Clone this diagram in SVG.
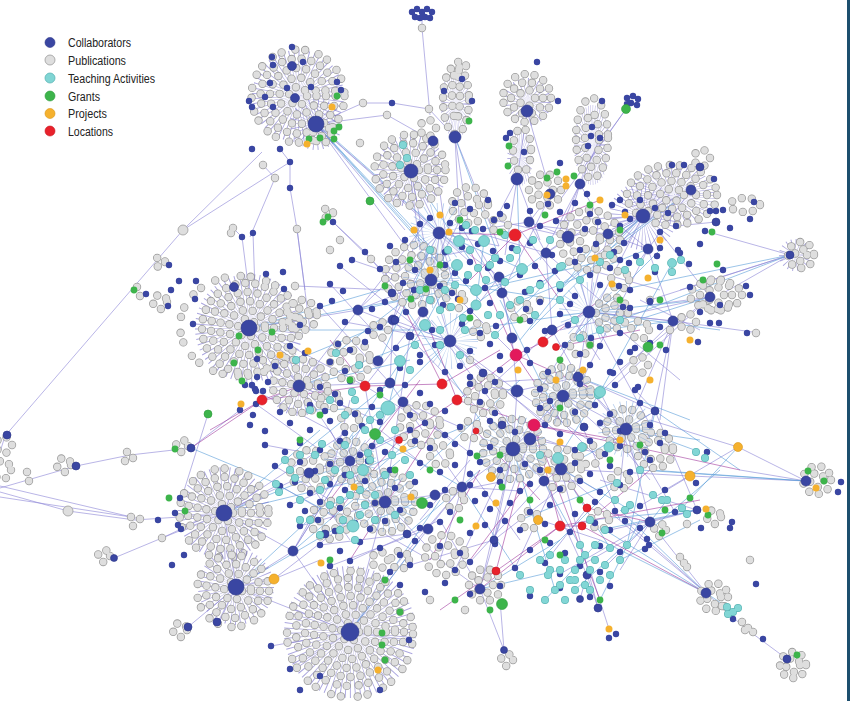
<svg xmlns="http://www.w3.org/2000/svg" xmlns:xlink="http://www.w3.org/1999/xlink" width="850" height="701" viewBox="0 0 850 701">
<style>
.e{fill:none;stroke:#8b84d6;stroke-width:.75;stroke-opacity:.8}
.eb{fill:none;stroke:#5a9cd8;stroke-width:.75;stroke-opacity:.8}
.em{fill:none;stroke:#9b2f98;stroke-width:.75;stroke-opacity:.75}
.sp{fill:none;stroke:#6f67c8;stroke-opacity:.6;stroke-dasharray:.5 2.2}
.spb{fill:none;stroke:#5a8fd6;stroke-opacity:.45;stroke-dasharray:.45 3}
.go{fill:none;stroke:#9c9c9c;stroke-width:8.4;stroke-linecap:round;stroke-dasharray:0 10}
.gf{fill:none;stroke:#dedede;stroke-width:6.8;stroke-linecap:round;stroke-dasharray:0 10}
.dg1{fill:none;stroke:#9c9c9c;stroke-width:8.4;stroke-linecap:round}
.dg2{fill:none;stroke:#dedede;stroke-width:6.8;stroke-linecap:round}
.db{fill:none;stroke:#3a46a2;stroke-width:6.4;stroke-linecap:round}
.dc1{fill:none;stroke:#5cb6b6;stroke-width:8;stroke-linecap:round}
.dc2{fill:none;stroke:#82d6d5;stroke-width:6.6;stroke-linecap:round}
.dn{fill:none;stroke:#3db44b;stroke-width:6.8;stroke-linecap:round}
.do{fill:none;stroke:#f5b12e;stroke-width:7;stroke-linecap:round}
.b{fill:#3a46a2;stroke:#2c3688;stroke-width:.6}
.g{fill:#dedede;stroke:#9c9c9c;stroke-width:.8}
.c{fill:#80d5d4;stroke:#5cb6b6;stroke-width:.8}
.n{fill:#3db44b;stroke:#2d9a3b;stroke-width:.6}
.o{fill:#f5b12e;stroke:#d99412;stroke-width:.6}
.r{fill:#e8212b;stroke:#c8161f;stroke-width:.6}
.rm{fill:#e3195c;stroke:#c4104a;stroke-width:.6}
.lt{font-family:"Liberation Sans Narrow","Liberation Sans",Arial,sans-serif;font-size:12px;fill:#222}
</style>
<rect width="850" height="701" fill="#fff"/>

<g id="connectors">
<path class="e" d="M0 452L5 436L183 230M183 230L262 152M183 230L290 162M0 488L76 466L130 455L191 448M0 492L68 511L135 520L224 514M0 486L140 519M0 497L131 517M114 558L162 538L224 513M162 538L200 520M191 448L240 410M182 497L208 414M224 513L240 470M224 513L280 484M224 513L236 587M236 587L350 632M236 587L274 579L320 560M274 579L350 520M350 632L290 669M350 632L271 646M350 632L409 640M218 622L236 587M188 627L236 587M422 14L422 28L430 115M316 124L363 103L392 103L429 109L455 137M316 124L387 115L433 141M316 124L440 233M316 124L470 262M316 124L430 280M316 124L405 230M290 188L290 162L280 149M290 188L297 229L305 290M297 229L310 330M275 178L263 165M275 178L250 237M242 237L250 300M253 233L255 290M233 228L242 237M333 222L365 252L371 259L405 300M333 222L392 280M358 310L440 233M358 310L431 280M358 310L410 330M296 286L390 290M455 137L460 235M455 137L470 235M433 141L445 230M410 171L440 233M410 171L420 250M527 111L517 179M517 179L505 255M517 179L540 240M517 179L490 230M580 184L540 260M580 184L565 235M600 138L560 230M626 109L590 160M626 109L560 200M643 216L590 260M643 216L570 237M643 216L600 300M691 190L640 260M790 255L680 290M790 255L650 300M790 255L720 295M710 297L650 305M710 297L560 330M710 297L620 370M673 321L590 312M673 321L626 429M673 321L660 420M760 333L673 321M806 481L690 476L580 470M806 481L738 447L650 420M806 481L740 470M706 593L650 522M706 593L560 470M706 593L745 628L787 659M697 510L650 522M697 510L600 480M650 522L620 570M480 589L500 520M480 589L440 520M504 650L500 600M504 650L480 589M609 629L590 570M440 233L500 277M440 233L431 280M440 233L499 246M439 233L393 320M529 222L546 253M529 222L568 237M551 194L502 293M568 237L589 312M608 234L589 312M608 234L648 249M431 280L423 312M431 280L450 341M499 277L512 338M499 277L450 341M546 253L552 330M502 293L512 338M589 312L578 377M589 312L552 330M393 320L390 383M423 312L410 336M450 341L483 373M552 330L578 377M512 338L517 391M390 383L403 402M517 391L513 449M563 395L530 439M563 395L626 429M513 449L462 487M513 449L544 481M530 439L561 469M561 469L544 481M462 487L435 495M435 495L385 502M385 502L350 461M350 461L403 402M428 529L462 487M407 534L385 502M494 540L513 449M626 429L655 411M578 377L626 429M563 395L513 449M439 233L458 300M546 253L600 300M648 249L673 321M589 312L673 321M300 386L350 461M300 386L358 310M300 386L390 383M249 328L358 310M249 328L300 386M224 513L293 551M293 551L350 461M293 551L350 632M350 632L385 502M350 632L428 529M236 587L293 551M309 473L350 461M309 473L224 513M385 502L440 560M440 560L480 589M513 449L480 589M561 469L598 608M598 608L587 575M580 599L587 575M544 481L587 575M462 487L440 560M365 386L385 502M403 402L462 487M450 341L517 391M393 320L450 341M551 194L529 222M580 184L608 234M643 216L608 234M527 111L551 194M455 137L499 246M411 171L431 280M568 237L546 253M517 391L578 377M483 373L462 487M410 336L385 502M423 312L365 386M350 461L293 551M530 439L494 540M626 429L650 522M655 411L697 510M578 377L655 411M600 392L640 470M460 220L420 300M480 250L520 320M560 300L600 360M380 430L430 470M330 430L380 520M300 470L350 540M470 470L520 540M540 400L600 460M600 420L650 480M620 330L680 380M520 230L560 280M460 300L520 360M400 400L450 440M360 520L430 560M540 520L600 540M580 420L620 520M350 400L330 480M420 520L470 460M640 300L700 330M590 270L660 290"/>
<path class="e" d="M340 266L420 330M352 260L440 290M380 269L470 250M330 284L400 360M320 306L390 383M345 322L450 341M290 346L365 386M275 366L350 410M245 385L330 430M256 404L320 450M265 445L350 461M275 466L330 500M280 486L350 526M290 505L370 470M300 526L385 502M320 545L407 534M330 566L428 529M350 561L440 520M390 572L462 487M410 565L494 540M455 570L513 449M470 562L544 481M515 568L561 469M545 563L587 508M560 574L650 522M580 566L626 540M600 572L650 522M610 530L697 510M625 521L706 593M640 506L690 476M665 490L738 447M675 512L626 429M650 460L578 377M660 443L589 312M645 452L673 321M620 446L563 395M605 454L530 439M590 441L517 391M575 450L502 425M560 434L483 373M545 425L450 341M515 432L423 312M490 421L393 320M460 427L403 402M445 435L365 386M425 423L350 461M410 430L309 473M380 422L300 386M362 426L293 551M345 433L224 513M470 453L403 402M500 482L435 495M520 491L462 487M560 489L494 540M580 481L544 481M600 492L561 469M620 485L626 429M470 384L517 391M485 391L552 330M495 382L578 377M540 389L589 312M580 384L648 249M600 393L673 321M615 385L710 297M635 390L655 411M420 224L393 320M430 218L358 310M450 223L423 312M462 228L502 293M472 231L546 253M483 229L529 222M494 220L568 237M540 226L608 234M556 221L643 216M585 229L546 253M598 222L589 312M620 226L648 249M630 219L691 190M660 232L710 297M676 226L716 222M705 231L790 255"/>
<path class="eb" d="M316 124L430 250M316 124L445 270M316 124L480 300M320 126L460 250M191 448L273 482M224 513L320 430M236 587L330 500M224 513L330 470M410 171L470 260M455 137L500 260M517 179L520 270M643 216L560 290M643 216L530 330M691 190L600 260M790 255L620 290M806 481L650 470M697 510L600 530M706 593L600 540M706 593L620 510M249 328L400 300M249 328L380 290M358 310L450 290M300 386L410 360M300 386L420 340M293 551L400 460M350 632L420 540M350 632L440 500M236 587L350 520M480 589L560 540M562 469L650 522M626 429L700 440M589 312L700 300M589 312L720 330M655 411L740 470M578 377L690 420M224 513L360 480M250 330L420 330M430 280L560 300M400 300L480 420M500 300L560 420M600 240L520 340M660 250L560 350M360 470L480 420M420 470L520 380M560 470L650 420M520 520L620 480M400 540L480 470M320 520L410 440M430 250L380 360M620 560L700 520M720 470L650 530M545 600L600 540M600 600L640 520M700 452L640 430M459 241L522 269M484 241L476 305M457 265L425 325M522 269L476 290M400 361L388 408M388 408L363 470M363 470L353 526M558 458L600 392M600 392L672 263M353 526L276 484M388 408L310 410M425 325L345 445M476 290L600 262M540 560L617 483M575 590L650 522M727 607L706 593M300 455L390 383M330 505L410 475M345 445L450 341M365 430L462 487M375 520L435 495M296 360L393 320M336 353L431 280M440 330L546 253M465 330L589 312M495 335L562 266M510 305L648 249M530 290L643 216M560 285L691 190M580 338L710 297M600 330L673 321M620 320L790 255M555 590L513 449M585 555L544 481M610 548L561 469M627 545L655 411M605 530L706 593M590 520L697 510M560 570L480 589M520 575L462 487M640 470L806 481M667 500L650 522M682 508L738 447"/>
<path class="em" d="M515 235L560 300M515 235L470 280M515 235L440 233M516 355L543 342M516 355L458 400M516 355L600 392M516 355L560 420M534 425L560 526M534 425L457 400M365 386L262 400M262 400L210 430M365 386L442 384M442 384L500 350M560 526L582 526M582 526L706 593M560 526L496 571M496 571L440 610M457 400L399 440M587 508L650 522M560 526L480 589M534 425L620 440M191 448L262 400M262 400L300 386M330 500L420 380M350 560L440 420M430 560L480 470M470 560L530 480M516 355L470 250M543 342L600 300M556 347L640 330M534 425L740 470M560 526L700 500M476 431L540 500M399 440L330 520M442 384L400 300M457 400L430 330M365 386L330 340M582 526L650 470M496 571L520 480M534 425L600 600M515 235L600 200M587 508L540 440"/>
</g>

<g id="cluster-a">
<circle class="sp" cx="298" cy="96" r="23" stroke-width="46"/>
<circle class="sp" cx="316" cy="124" r="13" stroke-width="26"/>
<g class="go"><g id="ra"><circle cx="298" cy="96" r="9"/><circle cx="298" cy="96" r="18.5"/><circle cx="298" cy="96" r="28"/><circle cx="298" cy="96" r="37.5"/><circle cx="298" cy="96" r="46.5" stroke-dasharray="0 10 0 14"/><circle cx="322" cy="134" r="9"/></g></g>
<use href="#ra" xlink:href="#ra" class="gf"/>
<circle class="b" cx="316" cy="124" r="8"/><circle class="b" cx="292" cy="66" r="4.5"/><circle class="b" cx="295" cy="98" r="4.5"/>
</g>
<g id="cluster-b">
<circle class="sp" cx="411" cy="171" r="18" stroke-width="36"/>
<g class="go"><g id="rb"><circle cx="410" cy="170" r="9"/><circle cx="410" cy="170" r="18"/><circle cx="410" cy="170" r="27"/><circle cx="410" cy="170" r="35.5" stroke-dasharray="0 10 0 13"/></g></g>
<use href="#rb" xlink:href="#rb" class="gf"/>
<circle class="b" cx="411" cy="171" r="7"/>
</g>
<g id="cluster-c">
<circle class="sp" cx="0" cy="0" r="17" stroke-width="34" transform="translate(456 104) scale(.45 1)"/>
<g class="go"><g id="rc"><ellipse cx="456" cy="100" rx="13" ry="34"/><ellipse cx="456" cy="96" rx="4" ry="24"/><circle cx="428" cy="128" r="8"/><circle cx="461" cy="66" r="5"/></g></g>
<use href="#rc" xlink:href="#rc" class="gf"/>
<circle class="b" cx="455" cy="137" r="6"/><circle class="b" cx="433" cy="141" r="5"/>
</g>
<g id="cluster-d">
<circle class="sp" cx="527" cy="102" r="12" stroke-width="24"/>
<circle class="sp" cx="0" cy="0" r="14" stroke-width="28" transform="translate(520 158) scale(.45 1)"/>
<g class="go"><g id="rd"><circle cx="527" cy="98" r="8"/><circle cx="527" cy="98" r="16"/><circle cx="527" cy="98" r="24"/><ellipse cx="522" cy="150" rx="9" ry="22"/><circle cx="545" cy="190" r="8"/><circle cx="545" cy="190" r="16"/></g></g>
<use href="#rd" xlink:href="#rd" class="gf"/>
<circle class="b" cx="527" cy="111" r="6"/><circle class="b" cx="517" cy="179" r="6"/><circle class="b" cx="550" cy="194" r="5"/>
</g>
<g id="cluster-e">
<circle class="sp" cx="0" cy="0" r="20" stroke-width="40" transform="translate(592 145) scale(.45 1)"/>
<g class="go"><g id="re"><ellipse cx="592" cy="138" rx="16" ry="40"/><ellipse cx="592" cy="140" rx="7" ry="27"/></g></g>
<use href="#re" xlink:href="#re" class="gf"/>
<circle class="b" cx="580" cy="184" r="5"/>
<path class="db" d="M627 98h0M633 96h0M638 99h0M631 103h0M637 105h0M627 104h0"/>
<circle class="n" cx="626" cy="109" r="4.5"/>
</g>
<g id="cluster-f">
<circle class="sp" cx="643" cy="216" r="17" stroke-width="34"/>
<circle class="sp" cx="0" cy="0" r="22" stroke-width="44" transform="translate(672 195) scale(1 .66)"/>
<g class="go"><g id="rf"><ellipse cx="672" cy="195" rx="45" ry="30" stroke-dasharray="0 10 0 12"/><ellipse cx="672" cy="195" rx="35" ry="22"/><ellipse cx="672" cy="195" rx="24" ry="14"/><ellipse cx="672" cy="195" rx="12" ry="6"/><ellipse cx="745" cy="205" rx="15" ry="7"/><circle cx="702" cy="158" r="8"/></g></g>
<use href="#rf" xlink:href="#rf" class="gf"/>
<circle class="b" cx="643" cy="216" r="7"/><circle class="b" cx="691" cy="190" r="5"/><circle class="b" cx="700" cy="167" r="4"/>
</g>
<g id="cluster-g">
<circle class="sp" cx="795" cy="255" r="8" stroke-width="16"/>
<g class="go"><g id="rg"><circle cx="801" cy="255" r="6"/><circle cx="801" cy="255" r="13"/></g></g>
<use href="#rg" xlink:href="#rg" class="gf"/>
<circle class="b" cx="790" cy="255" r="4"/>
</g>
<g id="cluster-h">
<circle class="sp" cx="249" cy="328" r="27" stroke-width="54"/>
<g class="go"><g id="rh"><circle cx="247" cy="328" r="9"/><circle cx="247" cy="328" r="18"/><circle cx="247" cy="328" r="27"/><circle cx="247" cy="328" r="36"/><circle cx="247" cy="328" r="45"/><ellipse cx="240" cy="326" rx="60" ry="50" stroke-dasharray="0 10 0 16"/><circle cx="302" cy="315" r="7"/><circle cx="302" cy="315" r="15"/></g></g>
<use href="#rh" xlink:href="#rh" class="gf"/>
<circle class="b" cx="249" cy="328" r="8"/><circle class="b" cx="234" cy="287" r="4.5"/>
</g>
<g id="cluster-i">
<circle class="sp" cx="299" cy="386" r="15" stroke-width="30"/>
<g class="go"><g id="ri"><circle cx="300" cy="386" r="9"/><circle cx="300" cy="386" r="18"/><circle cx="300" cy="386" r="27"/></g></g>
<use href="#ri" xlink:href="#ri" class="gf"/>
<circle class="b" cx="299" cy="386" r="6"/>
</g>
<g id="cluster-j">
<circle class="sp" cx="224" cy="513" r="23" stroke-width="46"/>
<g class="go"><g id="rj"><circle cx="224" cy="513" r="9"/><circle cx="224" cy="513" r="18"/><circle cx="224" cy="513" r="27"/><circle cx="224" cy="513" r="36"/><circle cx="224" cy="513" r="44.5" stroke-dasharray="0 10 0 15"/></g></g>
<use href="#rj" xlink:href="#rj" class="gf"/>
<circle class="b" cx="224" cy="513" r="8"/>
</g>
<g id="cluster-k">
<circle class="sp" cx="236" cy="587" r="19" stroke-width="38"/>
<g class="go"><g id="rk"><circle cx="233" cy="591" r="9"/><circle cx="233" cy="591" r="18"/><circle cx="233" cy="591" r="27"/><circle cx="233" cy="591" r="36" stroke-dasharray="0 10 0 14"/><circle cx="180" cy="630" r="7"/></g></g>
<use href="#rk" xlink:href="#rk" class="gf"/>
<circle class="b" cx="236" cy="587" r="8"/><circle class="b" cx="217" cy="622" r="4"/><circle class="b" cx="188" cy="627" r="4"/>
</g>
<g id="cluster-l">
<circle class="sp" cx="350" cy="632" r="33" stroke-width="66"/>
<g class="go"><g id="rl"><circle cx="350" cy="632" r="9"/><circle cx="350" cy="632" r="18"/><circle cx="350" cy="632" r="27"/><circle cx="350" cy="632" r="36"/><circle cx="350" cy="632" r="45"/><circle cx="350" cy="632" r="54" stroke-dasharray="0 10 0 12"/><circle cx="350" cy="634" r="63" stroke-dasharray="0 10 0 17"/></g></g>
<use href="#rl" xlink:href="#rl" class="gf"/>
<circle class="b" cx="350" cy="632" r="9"/>
</g>
<g id="small-clusters">
<g class="go"><g id="rs"><circle cx="64" cy="465" r="7"/><circle cx="182" cy="446" r="6"/><circle cx="104" cy="556" r="6"/><circle cx="817" cy="480" r="7"/><circle cx="817" cy="480" r="14"/><circle cx="714" cy="517" r="7"/><circle cx="714" cy="597" r="7"/><circle cx="714" cy="597" r="14"/><circle cx="793" cy="665" r="7"/><circle cx="793" cy="665" r="13"/><circle cx="485" cy="585" r="8"/><circle cx="485" cy="585" r="16"/><circle cx="507" cy="660" r="6"/><circle cx="716" cy="295" r="8"/><circle cx="716" cy="295" r="16"/><ellipse cx="716" cy="295" rx="26" ry="14"/><circle cx="688" cy="322" r="8"/><circle cx="612" cy="313" r="8"/><circle cx="612" cy="313" r="16"/><circle cx="160" cy="262" r="5"/><circle cx="160" cy="302" r="7"/><circle cx="4" cy="445" r="8"/><circle cx="2" cy="470" r="9"/><circle cx="328" cy="213" r="5"/><circle cx="660" cy="530" r="6"/></g></g>
<use href="#rs" xlink:href="#rs" class="gf"/>
</g>
<g id="core-publications">
<g class="go"><g id="rp"><circle cx="415" cy="275" r="10"/><circle cx="415" cy="275" r="20"/><circle cx="415" cy="275" r="30"/><circle cx="350" cy="360" r="10"/><circle cx="350" cy="360" r="20"/><circle cx="513" cy="449" r="10"/><circle cx="513" cy="449" r="20"/><circle cx="513" cy="449" r="30"/><circle cx="563" cy="395" r="10"/><circle cx="563" cy="395" r="20"/><circle cx="563" cy="395" r="28"/><circle cx="561" cy="469" r="10"/><circle cx="561" cy="469" r="20"/><circle cx="385" cy="502" r="10"/><circle cx="385" cy="502" r="20"/><circle cx="385" cy="502" r="30"/><circle cx="590" cy="240" r="10"/><circle cx="590" cy="240" r="20"/><circle cx="590" cy="240" r="30"/><circle cx="470" cy="205" r="9"/><circle cx="470" cy="205" r="18"/><circle cx="350" cy="461" r="10"/><circle cx="350" cy="461" r="20"/><circle cx="626" cy="429" r="10"/><circle cx="626" cy="429" r="20"/><circle cx="445" cy="555" r="10"/><circle cx="445" cy="555" r="20"/><circle cx="310" cy="470" r="10"/><circle cx="310" cy="470" r="20"/><circle cx="440" cy="455" r="10"/><circle cx="485" cy="395" r="10"/><circle cx="485" cy="395" r="18"/><circle cx="420" cy="425" r="10"/><circle cx="420" cy="425" r="20"/><circle cx="590" cy="455" r="10"/><circle cx="655" cy="450" r="10"/><circle cx="655" cy="450" r="18"/><circle cx="640" cy="365" r="8"/><circle cx="580" cy="345" r="10"/><circle cx="455" cy="300" r="9"/><circle cx="520" cy="310" r="9"/><circle cx="350" cy="420" r="9"/><circle cx="330" cy="520" r="10"/><circle cx="330" cy="520" r="19"/><circle cx="400" cy="560" r="9"/><circle cx="620" cy="280" r="9"/><circle cx="640" cy="330" r="9"/><circle cx="530" cy="520" r="9"/><circle cx="600" cy="520" r="9"/><circle cx="470" cy="430" r="9"/><circle cx="380" cy="560" r="8"/><circle cx="455" cy="500" r="9"/><circle cx="330" cy="400" r="9"/><circle cx="620" cy="480" r="9"/><circle cx="480" cy="330" r="7"/><circle cx="500" cy="225" r="8"/><circle cx="380" cy="330" r="8"/></g></g>
<use href="#rp" xlink:href="#rp" class="gf"/>
<g class="dg1"><path id="pg" d="M422 28h0M363 103h0M387 115h0M429 109h0M360 143h0M275 178h0M263 165h0M297 229h0M233 228h0M231 233h0M137 287h0M140 296h0M295 286h0M371 259h0M27 472h0M29 481h0M127 452h0M125 461h0M133 458h0M131 517h0M140 519h0M133 526h0M162 538h0M756 333h0M742 622h0M748 628h0M753 632h0M745 630h0M687 524h0M680 557h0M684 563h0M687 567h0M722 606h0M605 255h0M540 300h0M470 360h0M650 300h0M670 330h0M750 560h0M430 600h0M465 610h0M330 250h0M340 240h0"/></g>
<use href="#pg" xlink:href="#pg" class="dg2"/>
<circle class="g" cx="183" cy="230" r="5"/><circle class="g" cx="68" cy="511" r="5"/>
</g>

<g id="core-collaborators">
<circle class="spb" cx="439" cy="233" r="15" stroke-width="30"/>
<circle class="spb" cx="513" cy="449" r="17" stroke-width="34"/>
<circle class="spb" cx="563" cy="395" r="15" stroke-width="30"/>
<circle class="spb" cx="385" cy="502" r="15" stroke-width="30"/>
<circle class="spb" cx="450" cy="341" r="14" stroke-width="28"/>
<circle class="spb" cx="589" cy="312" r="15" stroke-width="30"/>
<circle class="spb" cx="431" cy="280" r="14" stroke-width="28"/>
<circle class="spb" cx="626" cy="429" r="14" stroke-width="28"/>
<circle class="spb" cx="350" cy="461" r="13" stroke-width="26"/>
<path class="db" d="M455 203h0M470 209h0M488 200h0M500 214h0M507 206h0M530 211h0M548 204h0M560 212h0M575 203h0M590 214h0M612 205h0M625 212h0M640 200h0M655 208h0M668 213h0M710 211h0M716 211h0M723 210h0M420 224h0M430 218h0M450 223h0M462 228h0M472 231h0M483 229h0M494 220h0M540 226h0M556 221h0M585 229h0M598 222h0M620 226h0M630 219h0M660 232h0M676 226h0M705 231h0M730 228h0M390 246h0M405 240h0M445 252h0M462 247h0M478 244h0M493 251h0M512 248h0M530 243h0M552 255h0M580 250h0M596 244h0M614 252h0M624 243h0M636 256h0M660 248h0M680 253h0M700 244h0M340 266h0M352 260h0M380 269h0M396 262h0M415 270h0M445 265h0M455 273h0M470 262h0M488 268h0M500 261h0M520 275h0M535 266h0M555 271h0M575 262h0M590 275h0M610 268h0M620 260h0M655 272h0M330 284h0M343 291h0M403 283h0M414 290h0M440 286h0M452 293h0M466 281h0M485 288h0M525 292h0M540 283h0M560 289h0M575 296h0M600 285h0M630 290h0M690 287h0M320 306h0M332 301h0M372 309h0M385 302h0M406 312h0M443 305h0M458 299h0M470 311h0M490 303h0M526 309h0M540 302h0M560 314h0M570 304h0M630 308h0M650 302h0M700 312h0M720 305h0M300 325h0M345 322h0M368 331h0M380 327h0M432 330h0M462 324h0M480 333h0M496 326h0M530 321h0M545 331h0M568 325h0M620 333h0M660 327h0M290 346h0M305 353h0M338 344h0M350 350h0M365 342h0M396 348h0M420 355h0M435 345h0M470 351h0M490 344h0M500 356h0M527 350h0M565 345h0M580 354h0M600 346h0M630 352h0M650 343h0M275 366h0M330 362h0M345 371h0M360 365h0M400 368h0M420 362h0M445 372h0M460 366h0M470 377h0M500 370h0M530 363h0M548 372h0M590 365h0M610 372h0M620 362h0"/>
<path class="db" d="M245 385h0M255 389h0M268 382h0M320 387h0M335 394h0M350 381h0M380 390h0M405 385h0M420 393h0M470 384h0M485 391h0M495 382h0M540 389h0M580 384h0M600 393h0M615 385h0M635 390h0M240 410h0M256 404h0M280 412h0M310 405h0M325 411h0M340 403h0M355 414h0M372 407h0M410 415h0M430 404h0M445 411h0M480 402h0M495 413h0M540 408h0M550 401h0M575 412h0M595 405h0M610 414h0M640 403h0M250 425h0M265 431h0M290 423h0M310 430h0M330 421h0M345 433h0M362 426h0M380 422h0M410 430h0M425 423h0M445 435h0M460 427h0M490 421h0M515 432h0M545 425h0M560 434h0M600 423h0M620 431h0M650 425h0M665 433h0M265 445h0M285 452h0M300 443h0M320 450h0M340 441h0M360 455h0M372 446h0M385 452h0M415 441h0M430 448h0M455 444h0M470 453h0M490 447h0M575 450h0M590 441h0M605 454h0M620 446h0M645 452h0M660 443h0M275 466h0M300 462h0M315 471h0M330 464h0M345 475h0M368 461h0M390 470h0M420 463h0M440 472h0M455 465h0M470 474h0M480 462h0M500 470h0M525 464h0M540 470h0M575 463h0M590 474h0M610 466h0M630 472h0M650 460h0M280 486h0M295 482h0M310 493h0M330 484h0M345 490h0M365 481h0M395 488h0M415 482h0M445 490h0M470 485h0M485 494h0M500 482h0M520 491h0M530 484h0M560 489h0M580 481h0M600 492h0M620 485h0M665 490h0M290 505h0M305 511h0M320 502h0M340 508h0M360 515h0M375 503h0M400 510h0M430 505h0M450 512h0M475 501h0M490 509h0M510 503h0M530 512h0M550 505h0M575 514h0M595 502h0M615 511h0M640 506h0M675 512h0M300 526h0M318 520h0M335 531h0M355 523h0M370 529h0M385 521h0M420 528h0M440 522h0M470 533h0M485 525h0M505 521h0M520 530h0M545 524h0M570 532h0M595 523h0M610 530h0M625 521h0M640 528h0M320 545h0M340 551h0M360 542h0M380 548h0M400 555h0M415 541h0M440 546h0M460 553h0M495 544h0M530 550h0M550 543h0M565 553h0M600 546h0M620 552h0M330 566h0M350 561h0M390 572h0M410 565h0M455 570h0M470 562h0M515 568h0M545 563h0M560 574h0M580 566h0M600 572h0M400 585h0M425 592h0M445 583h0M470 594h0M500 586h0M530 596h0M560 588h0M590 597h0M610 586h0"/>
<path class="db" d="M292 47h0M272 57h0M273 65h0M303 62h0M270 83h0M287 88h0M311 87h0M265 97h0M273 107h0M249 101h0M252 107h0M337 82h0M341 90h0M280 149h0M252 149h0M290 162h0M290 188h0M392 103h0M537 62h0M558 101h0M462 79h0M444 91h0M472 101h0M506 138h0M510 133h0M524 152h0M602 101h0M592 127h0M591 136h0M600 138h0M588 146h0M560 163h0M587 194h0M412 12h0M417 9h0M422 12h0M427 9h0M432 12h0M415 17h0M420 18h0M425 17h0M430 18h0M242 237h0M253 233h0M146 294h0M169 265h0M179 281h0M196 281h0M171 290h0M195 299h0M168 306h0M193 324h0M266 274h0M283 272h0M284 289h0M257 359h0M257 377h0M252 385h0M256 391h0M263 391h0M253 415h0M365 252h0M333 222h0M754 202h0M750 219h0M723 270h0M689 264h0M746 286h0M750 295h0M710 323h0M719 323h0M698 342h0M747 333h0M666 350h0M635 348h0M638 387h0M613 373h0M591 338h0M623 307h0M650 301h0M657 256h0M678 250h0M672 165h0M684 165h0M714 179h0M620 200h0M619 286h0M629 263h0M609 638h0M616 634h0M841 482h0M838 492h0M733 619h0M763 639h0M732 522h0M730 528h0M701 528h0M647 539h0M649 545h0M645 549h0M707 452h0M696 483h0M756 584h0M271 646h0M290 669h0M409 640h0M180 498h0M181 529h0M184 555h0M178 525h0M320 676h0M380 690h0M300 690h0M172 565h0M158 520h0M175 513h0"/>
<circle class="b" cx="7" cy="435" r="4"/><circle class="b" cx="76" cy="466" r="4"/><circle class="b" cx="191" cy="448" r="4"/><circle class="b" cx="114" cy="558" r="3.5"/>
<circle class="b" cx="568" cy="237" r="6"/><circle class="b" cx="608" cy="234" r="5"/><circle class="b" cx="648" cy="249" r="5"/><circle class="b" cx="716" cy="222" r="4"/><circle class="b" cx="710" cy="297" r="5"/><circle class="b" cx="589" cy="312" r="6"/><circle class="b" cx="673" cy="321" r="5"/><circle class="b" cx="578" cy="377" r="5"/><circle class="b" cx="563" cy="396" r="6"/><circle class="b" cx="626" cy="429" r="6"/><circle class="b" cx="655" cy="411" r="4"/>
<circle class="b" cx="439" cy="233" r="6"/><circle class="b" cx="529" cy="222" r="5"/><circle class="b" cx="431" cy="280" r="6"/><circle class="b" cx="499" cy="277" r="5"/><circle class="b" cx="546" cy="253" r="5"/><circle class="b" cx="502" cy="293" r="5"/><circle class="b" cx="393" cy="320" r="5"/><circle class="b" cx="423" cy="312" r="5"/><circle class="b" cx="450" cy="341" r="6"/><circle class="b" cx="552" cy="330" r="5"/><circle class="b" cx="512" cy="338" r="5"/><circle class="b" cx="390" cy="383" r="5"/><circle class="b" cx="410" cy="336" r="4"/><circle class="b" cx="483" cy="373" r="4"/><circle class="b" cx="358" cy="310" r="5"/><circle class="b" cx="395" cy="320" r="4"/><circle class="b" cx="392" cy="293" r="4"/><circle class="b" cx="378" cy="361" r="5"/>
<circle class="b" cx="517" cy="391" r="6"/><circle class="b" cx="513" cy="449" r="7"/><circle class="b" cx="530" cy="439" r="6"/><circle class="b" cx="561" cy="469" r="6"/><circle class="b" cx="544" cy="481" r="5"/><circle class="b" cx="462" cy="487" r="5"/><circle class="b" cx="435" cy="495" r="5"/><circle class="b" cx="385" cy="502" r="6"/><circle class="b" cx="350" cy="461" r="5"/><circle class="b" cx="403" cy="402" r="5"/><circle class="b" cx="428" cy="529" r="5"/><circle class="b" cx="407" cy="534" r="4"/><circle class="b" cx="494" cy="540" r="4"/><circle class="b" cx="502" cy="425" r="4"/><circle class="b" cx="584" cy="427" r="4"/><circle class="b" cx="309" cy="473" r="5"/><circle class="b" cx="325" cy="534" r="4"/><circle class="b" cx="293" cy="551" r="5"/>
<circle class="b" cx="806" cy="481" r="5"/><circle class="b" cx="697" cy="510" r="4"/><circle class="b" cx="650" cy="522" r="5"/><circle class="b" cx="706" cy="593" r="5"/><circle class="b" cx="787" cy="659" r="4"/><circle class="b" cx="480" cy="589" r="5"/><circle class="b" cx="504" cy="650" r="3.5"/><circle class="b" cx="598" cy="608" r="4"/><circle class="b" cx="587" cy="575" r="4"/><circle class="b" cx="580" cy="599" r="3.5"/>
</g>

<g id="teaching-activities">
<g class="dc1"><path id="pc" d="M410 370h0M451 307h0M517 250h0M562 266h0M470 250h0M495 258h0M505 282h0M540 285h0M445 290h0M430 300h0M415 345h0M440 330h0M500 315h0M520 300h0M560 300h0M580 280h0M600 262h0M610 255h0M625 270h0M640 262h0M655 268h0M672 272h0M681 260h0M560 267h0M580 338h0M600 330h0M620 320h0M575 320h0M370 420h0M380 440h0M392 455h0M345 445h0M335 470h0M320 490h0M340 500h0M360 490h0M355 540h0M375 520h0M395 515h0M410 475h0M405 460h0M310 410h0M330 400h0M345 415h0M276 484h0M279 492h0M290 470h0M300 455h0M300 500h0M540 560h0M548 575h0M560 570h0M570 580h0M580 560h0M590 570h0M600 580h0M575 590h0M555 590h0M565 600h0M585 585h0M595 545h0M610 548h0M620 560h0M627 545h0M605 530h0M590 520h0M615 500h0M630 505h0M667 500h0M640 470h0M696 452h0M705 458h0M653 495h0M662 500h0M682 508h0M687 514h0M727 607h0M733 612h0M738 608h0M728 614h0M545 600h0M530 590h0M520 575h0M617 483h0M403 145h0M407 158h0M400 165h0M336 353h0M296 360h0M359 365h0M466 225h0M478 268h0M533 240h0M488 315h0M463 318h0M352 392h0M368 453h0M322 444h0M343 520h0M300 520h0M540 455h0M598 395h0M625 510h0M448 250h0M468 275h0M490 265h0M510 258h0M530 290h0M486 280h0M455 285h0M440 310h0M465 330h0M495 335h0M510 305h0M535 315h0M430 250h0M475 230h0M505 235h0M550 240h0M560 285h0M420 290h0M440 345h0M460 355h0M285 460h0M295 478h0M315 455h0M325 480h0M330 505h0M350 495h0M365 505h0M375 495h0M350 475h0M370 460h0M385 475h0M340 530h0M360 515h0M310 520h0M320 535h0M395 430h0M365 430h0M380 415h0M355 400h0M550 555h0M565 560h0M575 570h0M585 555h0M595 560h0M605 565h0M575 580h0M590 590h0M560 585h0M550 570h0M610 575h0M580 545h0"/></g>
<use href="#pc" xlink:href="#pc" class="dc2"/>
<circle class="c" cx="459" cy="241" r="5.5"/><circle class="c" cx="484" cy="241" r="5.5"/><circle class="c" cx="457" cy="265" r="5.5"/><circle class="c" cx="522" cy="269" r="5.5"/><circle class="c" cx="476" cy="290" r="5.5"/><circle class="c" cx="476" cy="305" r="5"/><circle class="c" cx="425" cy="325" r="5.5"/><circle class="c" cx="400" cy="361" r="5.5"/><circle class="c" cx="388" cy="408" r="7"/><circle class="c" cx="363" cy="470" r="5.5"/><circle class="c" cx="353" cy="526" r="6"/><circle class="c" cx="558" cy="458" r="5.5"/><circle class="c" cx="600" cy="392" r="5.5"/><circle class="c" cx="672" cy="263" r="4.5"/><circle class="c" cx="609" cy="447" r="5"/><circle class="c" cx="582" cy="447" r="4.5"/>
</g>

<g id="grants">
<path class="dn" d="M337 96h0M339 127h0M334 131h0M334 139h0M309 139h0M320 138h0M469 121h0M509 146h0M508 166h0M557 172h0M547 178h0M574 176h0M328 217h0M323 222h0M385 286h0M411 299h0M426 289h0M134 290h0M175 449h0M169 498h0M185 511h0M234 363h0M258 350h0M272 332h0M239 336h0M242 381h0M477 456h0M560 408h0M502 487h0M460 220h0M500 232h0M545 215h0M590 205h0M620 230h0M410 260h0M440 265h0M470 318h0M520 320h0M560 360h0M590 345h0M620 300h0M660 300h0M350 380h0M380 395h0M320 415h0M300 440h0M395 470h0M430 470h0M460 520h0M500 455h0M530 500h0M580 500h0M610 460h0M640 445h0M665 510h0M690 498h0M545 540h0M560 555h0M600 600h0M330 560h0M385 580h0M400 612h0M808 471h0M824 481h0M708 515h0M662 533h0M797 655h0M712 232h0M717 264h0M703 280h0M385 660h0M382 633h0M490 610h0M455 600h0M382 645h0M660 345h0"/>
<circle class="n" cx="375" cy="434" r="5.5"/><circle class="n" cx="422" cy="503" r="5.5"/><circle class="n" cx="502" cy="604" r="5.5"/><circle class="n" cx="648" cy="347" r="5"/><circle class="n" cx="370" cy="201" r="4"/><circle class="n" cx="208" cy="414" r="4"/>
</g>

<g id="projects">
<path class="do" d="M332 107h0M307 144h0M414 230h0M440 215h0M449 232h0M566 179h0M566 186h0M648 278h0M241 404h0M280 355h0M308 351h0M321 563h0M403 449h0M476 526h0M496 503h0M548 470h0M411 497h0M354 487h0M609 629h0M625 215h0M600 200h0M547 195h0M595 258h0M612 284h0M660 240h0M583 370h0M556 380h0M518 370h0M560 442h0M620 440h0M378 670h0M816 488h0M706 509h0M430 270h0M460 300h0M650 380h0M690 340h0"/>
<circle class="o" cx="274" cy="579" r="5"/><circle class="o" cx="491" cy="477" r="4.5"/><circle class="o" cx="538" cy="520" r="4.5"/><circle class="o" cx="690" cy="476" r="5"/><circle class="o" cx="738" cy="447" r="4.5"/>
</g>

<g id="locations">
<circle class="r" cx="515" cy="235" r="6"/><circle class="rm" cx="516" cy="355" r="6"/><circle class="r" cx="543" cy="342" r="5"/><circle class="r" cx="556" cy="347" r="3.5"/><circle class="r" cx="365" cy="386" r="5"/><circle class="r" cx="262" cy="400" r="5"/><circle class="r" cx="442" cy="384" r="5"/><circle class="r" cx="457" cy="400" r="5"/><circle class="rm" cx="534" cy="425" r="6"/><circle class="r" cx="399" cy="440" r="3.5"/><circle class="r" cx="476" cy="431" r="3"/><circle class="r" cx="560" cy="526" r="5"/><circle class="r" cx="582" cy="526" r="4"/><circle class="r" cx="587" cy="508" r="4"/><circle class="r" cx="496" cy="571" r="4"/>
</g>

<g id="legend">
<circle class="b" cx="50" cy="42.5" r="5"/><text class="lt" x="68" y="47" textLength="63" lengthAdjust="spacingAndGlyphs">Collaborators</text>
<circle class="g" cx="50" cy="60" r="5"/><text class="lt" x="68" y="64.5" textLength="58" lengthAdjust="spacingAndGlyphs">Publications</text>
<circle class="c" cx="50" cy="78" r="5"/><text class="lt" x="68" y="82.5" textLength="87" lengthAdjust="spacingAndGlyphs">Teaching Activities</text>
<circle class="n" cx="50" cy="96" r="5"/><text class="lt" x="68" y="100.5" textLength="32" lengthAdjust="spacingAndGlyphs">Grants</text>
<circle class="o" cx="50" cy="113.5" r="5"/><text class="lt" x="68" y="118" textLength="39" lengthAdjust="spacingAndGlyphs">Projects</text>
<circle class="r" cx="50" cy="131" r="5"/><text class="lt" x="68" y="135.5" textLength="45" lengthAdjust="spacingAndGlyphs">Locations</text>
</g>
<rect id="frame-edge" x="847" y="0" width="3" height="701" fill="#1d4f6e"/>
</svg>
